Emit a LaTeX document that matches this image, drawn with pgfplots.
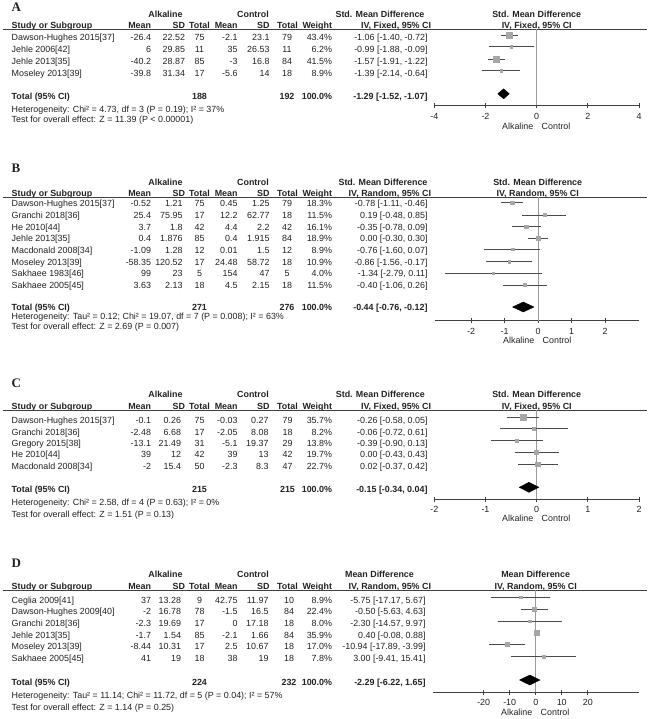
\documentclass[border=0pt]{standalone}
\usepackage{pgfplots}
\pgfplotsset{compat=1.18}
\usepackage{fontspec}
\setmainfont{Liberation Sans}
\newfontfamily\seriffont{Liberation Serif}
\definecolor{sq}{HTML}{A6A6A6}
\definecolor{ci}{HTML}{4A4A4A}
\definecolor{zl}{HTML}{9A9A9A}
\definecolor{tx}{HTML}{222222}
\newcommand{\fs}{\fontsize{8.9}{10.5}\selectfont}
\newcommand{\lbl}{\fontsize{13}{13}\selectfont\seriffont\bfseries}
\newcommand{\RT}[3]{\node[anchor=base east] at (#1,{#2+3.2}) {#3};}
\newcommand{\LT}[3]{\node[anchor=base west] at (#1,{#2+3.2}) {#3};}
\newcommand{\CT}[3]{\node[anchor=base] at (#1,{#2+3.2}) {#3};}
% columns
\def\cS{11.7}\def\cM{151}\def\cSD{185}\def\cN{199.5}\def\cMM{237.5}\def\cSS{269.5}\def\cNN{287}\def\cW{332}\def\cE{427.5}
\newcommand{\Row}[9]{\LT{\cS}{#1}{#2}\RT{\cM}{#1}{#3}\RT{\cSD}{#1}{#4}\CT{\cN}{#1}{#5}\RT{\cMM}{#1}{#6}\RT{\cSS}{#1}{#7}\CT{\cNN}{#1}{#8}\RT{\cW}{#1}{#9}}
\newcommand{\Heads}[7]{% y1 y2 yline x0 head1 head2 estheadcenter
  \CT{165.5}{#1}{\bfseries Alkaline}\CT{253}{#1}{\bfseries Control}
  \CT{#7}{#1}{\bfseries #5}\CT{#4}{#1}{\bfseries #5}
  \LT{\cS}{#2}{\bfseries Study or Subgroup}\RT{151}{#2}{\bfseries Mean}\RT{185}{#2}{\bfseries SD}\CT{199.5}{#2}{\bfseries Total}
  \RT{237.5}{#2}{\bfseries Mean}\RT{269.5}{#2}{\bfseries SD}\CT{287.5}{#2}{\bfseries Total}\RT{332}{#2}{\bfseries Weight}
  \RT{431}{#2}{\bfseries #6}\CT{#4}{#2}{\bfseries #6}
  \draw[black!75, line width=0.8pt] (3,#3) -- (647,#3);}
\newcommand{\AlkCon}[2]{\node[anchor=base east] at ({#1-3.4},{#2+3.2}) {Alkaline};\node[anchor=base west] at ({#1+5},{#2+3.2}) {Control};}
\pgfplotsset{
  forest/.style={scale only axis, axis x line*=bottom, hide y axis, tick align=center,
    major tick length=5pt, x axis line style={black!75, line width=0.8pt},
    xtick style={black!75, line width=0.8pt},
    xticklabel style={anchor=base, yshift=-11.3pt, font=\fs, text=tx},
    y filter/.expression={-y}, clip=false},
  pts/.style={only marks, mark=square*, scatter, scatter/use mapped color={draw=sq, fill=sq},
    visualization depends on={0.45*sqrt(\thisrow{w}) \as \msize},
    scatter/@pre marker code/.append style={/tikz/mark size=\msize},
    error bars/.cd, x dir=both, x explicit, error mark=none,
    error bar style={ci, line width=0.8pt}},
  zero/.style={zl, line width=0.9pt},
  dia/.style={fill=black, draw=black, line width=0.4pt}
}
\begin{document}
\begin{tikzpicture}[x=1pt, y=-1pt, every node/.style={inner sep=0pt, outer sep=0pt}, font=\fs, text=tx]
\path[use as bounding box] (0,0) rectangle (650,719);
% ================= A =================
\node[anchor=west] at (11.7,7.7) {\lbl A};
\Heads{14}{25.5}{29}{536.7}{Std. Mean Difference}{IV, Fixed, 95\% CI}{380}
\Row{37.5}{Dawson-Hughes 2015[37]}{-26.4}{22.52}{75}{-2.1}{23.1}{79}{43.4\%}\RT{\cE}{37.5}{-1.06 [-1.40, -0.72]}
\Row{49.8}{Jehle 2006[42]}{6}{29.85}{11}{35}{26.53}{11}{6.2\%}\RT{\cE}{49.8}{-0.99 [-1.88, -0.09]}
\Row{61.8}{Jehle 2013[35]}{-40.2}{28.87}{85}{-3}{16.8}{84}{41.5\%}\RT{\cE}{61.8}{-1.57 [-1.91, -1.22]}
\Row{73.4}{Moseley 2013[39]}{-39.8}{31.34}{17}{-5.6}{14}{18}{8.9\%}\RT{\cE}{73.4}{-1.39 [-2.14, -0.64]}
\Row{96.3}{\bfseries Total (95\% CI)}{}{}{\bfseries 188}{}{}{\bfseries 192}{\bfseries 100.0\%}\RT{\cE}{96.3}{\bfseries -1.29 [-1.52, -1.07]}
\LT{\cS}{109.8}{Heterogeneity: Chi² = 4.73, df = 3 (P = 0.19); I² = 37\%}
\LT{\cS}{119.5}{Test for overall effect: Z = 11.39 (P < 0.00001)}
\AlkCon{536.7}{126}
\begin{axis}[forest, at={(434.3pt,-105.3pt)}, anchor=south west, width=204.7pt, height=76.3pt,
  xmin=-4, xmax=4, ymin=-105.3, ymax=-29, xtick={-4,-2,0,2,4}, xticklabels={-4,-2,0,2,4}]
\addplot[zero] coordinates {(0,29) (0,105.3)};
\addplot[pts] table[x=e, y=y, x error minus expr=\thisrow{e}-\thisrow{l}, x error plus expr=\thisrow{h}-\thisrow{e}] {
y e l h w
35.3 -1.06 -1.40 -0.72 43.4
46.8 -0.99 -1.88 -0.09 6.2
59.2 -1.57 -1.91 -1.22 41.5
70.7 -1.39 -2.14 -0.64 8.9
};
\addplot[dia] coordinates {(-1.52,93.8) (-1.29,88.8) (-1.07,93.8) (-1.29,98.8)} -- cycle;
\end{axis}
% ================= B =================
\node[anchor=west] at (11.7,168) {\lbl B};
\Heads{182.3}{193.3}{197.5}{537.7}{Std. Mean Difference}{IV, Random, 95\% CI}{383}
\def\cSD{182.5}
\Row{203.8}{Dawson-Hughes 2015[37]}{-0.52}{1.21}{75}{0.45}{1.25}{79}{18.3\%}\RT{\cE}{203.8}{-0.78 [-1.11, -0.46]}
\Row{215.4}{Granchi 2018[36]}{25.4}{75.95}{17}{12.2}{62.77}{18}{11.5\%}\RT{\cE}{215.4}{0.19 [-0.48, 0.85]}
\Row{227}{He 2010[44]}{3.7}{1.8}{42}{4.4}{2.2}{42}{16.1\%}\RT{\cE}{227}{-0.35 [-0.78, 0.09]}
\Row{238.6}{Jehle 2013[35]}{0.4}{1.876}{85}{0.4}{1.915}{84}{18.9\%}\RT{\cE}{238.6}{0.00 [-0.30, 0.30]}
\Row{250.2}{Macdonald 2008[34]}{-1.09}{1.28}{12}{0.01}{1.5}{12}{8.9\%}\RT{\cE}{250.2}{-0.76 [-1.60, 0.07]}
\Row{261.8}{Moseley 2013[39]}{-58.35}{120.52}{17}{24.48}{58.72}{18}{10.9\%}\RT{\cE}{261.8}{-0.86 [-1.56, -0.17]}
\Row{273.4}{Sakhaee 1983[46]}{99}{23}{5}{154}{47}{5}{4.0\%}\RT{\cE}{273.4}{-1.34 [-2.79, 0.11]}
\Row{285}{Sakhaee 2005[45]}{3.63}{2.13}{18}{4.5}{2.15}{18}{11.5\%}\RT{\cE}{285}{-0.40 [-1.06, 0.26]}
\Row{307.5}{\bfseries Total (95\% CI)}{}{}{\bfseries 271}{}{}{\bfseries 276}{\bfseries 100.0\%}\RT{\cE}{307.5}{\bfseries -0.44 [-0.76, -0.12]}
\LT{\cS}{316.7}{Heterogeneity: Tau² = 0.12; Chi² = 19.07, df = 7 (P = 0.008); I² = 63\%}
\LT{\cS}{325.8}{Test for overall effect: Z = 2.69 (P = 0.007)}
\AlkCon{537.7}{340}
\begin{axis}[forest, at={(435pt,-320.7pt)}, anchor=south west, width=204pt, height=123.2pt,
  xmin=-3.075, xmax=3.015, ymin=-320.7, ymax=-197.5, xtick={-2,-1,0,1,2}, xticklabels={-2,-1,0,1,2}]
\addplot[zero] coordinates {(0,197.5) (0,320.7)};
\addplot[pts] table[x=e, y=y, x error minus expr=\thisrow{e}-\thisrow{l}, x error plus expr=\thisrow{h}-\thisrow{e}] {
y e l h w
202.7 -0.78 -1.11 -0.46 18.3
215.0 0.19 -0.48 0.85 11.5
226.7 -0.35 -0.78 0.09 16.1
238.3 0.00 -0.30 0.30 18.9
249.3 -0.76 -1.60 0.07 8.9
261.3 -0.86 -1.56 -0.17 10.9
273.0 -1.34 -2.79 0.11 4.0
285.0 -0.40 -1.06 0.26 11.5
};
\addplot[dia] coordinates {(-0.76,307) (-0.44,302) (-0.12,307) (-0.44,312)} -- cycle;
\end{axis}
% ================= C =================
\node[anchor=west] at (11.7,383.5) {\lbl C};
\Heads{394.3}{406}{410.3}{536.7}{Std. Mean Difference}{IV, Fixed, 95\% CI}{380.3}
\def\cSD{181}\def\cSS{268.5}\def\cNN{287.5}
\Row{420.5}{Dawson-Hughes 2015[37]}{-0.1}{0.26}{75}{-0.03}{0.27}{79}{35.7\%}\RT{\cE}{420.5}{-0.26 [-0.58, 0.05]}
\Row{431.8}{Granchi 2018[36]}{-2.48}{6.68}{17}{-2.05}{8.08}{18}{8.2\%}\RT{\cE}{431.8}{-0.06 [-0.72, 0.61]}
\Row{443.1}{Gregory 2015[38]}{-13.1}{21.49}{31}{-5.1}{19.37}{29}{13.8\%}\RT{\cE}{443.1}{-0.39 [-0.90, 0.13]}
\Row{454.5}{He 2010[44]}{39}{12}{42}{39}{13}{42}{19.7\%}\RT{\cE}{454.5}{0.00 [-0.43, 0.43]}
\Row{466}{Macdonald 2008[34]}{-2}{15.4}{50}{-2.3}{8.3}{47}{22.7\%}\RT{\cE}{466}{0.02 [-0.37, 0.42]}
\Row{489.6}{\bfseries Total (95\% CI)}{}{}{\bfseries 215}{}{}{\bfseries 215}{\bfseries 100.0\%}\RT{\cE}{489.6}{\bfseries -0.15 [-0.34, 0.04]}
\LT{\cS}{502.7}{Heterogeneity: Chi² = 2.58, df = 4 (P = 0.63); I² = 0\%}
\LT{\cS}{514}{Test for overall effect: Z = 1.51 (P = 0.13)}
\AlkCon{536.7}{518.5}
\begin{axis}[forest, at={(434.3pt,-499pt)}, anchor=south west, width=204.7pt, height=88.7pt,
  xmin=-2, xmax=2, ymin=-499, ymax=-410.3, xtick={-2,-1,0,1,2}, xticklabels={-2,-1,0,1,2}]
\addplot[zero] coordinates {(0,410.3) (0,499)};
\addplot[pts] table[x=e, y=y, x error minus expr=\thisrow{e}-\thisrow{l}, x error plus expr=\thisrow{h}-\thisrow{e}] {
y e l h w
417.3 -0.26 -0.58 0.05 35.7
428.7 -0.06 -0.72 0.61 8.2
440.7 -0.39 -0.90 0.13 13.8
452.3 0.00 -0.43 0.43 19.7
464.0 0.02 -0.37 0.42 22.7
};
\addplot[dia] coordinates {(-0.34,487.3) (-0.15,482.3) (0.04,487.3) (-0.15,492.3)} -- cycle;
\end{axis}
% ================= D =================
\node[anchor=west] at (11.7,563) {\lbl D};
\Heads{574.3}{586.7}{590.3}{535.7}{Mean Difference}{IV, Random, 95\% CI}{379.5}
\def\cNN{289}\def\cE{425.5}
\Row{600}{Ceglia 2009[41]}{37}{13.28}{9}{42.75}{11.97}{10}{8.9\%}\RT{\cE}{600}{-5.75 [-17.17, 5.67]}
\Row{611.5}{Dawson-Hughes 2009[40]}{-2}{16.78}{78}{-1.5}{16.5}{84}{22.4\%}\RT{\cE}{611.5}{-0.50 [-5.63, 4.63]}
\Row{623}{Granchi 2018[36]}{-2.3}{19.69}{17}{0}{17.18}{18}{8.0\%}\RT{\cE}{623}{-2.30 [-14.57, 9.97]}
\Row{634.8}{Jehle 2013[35]}{-1.7}{1.54}{85}{-2.1}{1.66}{84}{35.9\%}\RT{\cE}{634.8}{0.40 [-0.08, 0.88]}
\Row{646.6}{Moseley 2013[39]}{-8.44}{10.31}{17}{2.5}{10.67}{18}{17.0\%}\RT{\cE}{646.6}{-10.94 [-17.89, -3.99]}
\Row{658.4}{Sakhaee 2005[45]}{41}{19}{18}{38}{19}{18}{7.8\%}\RT{\cE}{658.4}{3.00 [-9.41, 15.41]}
\Row{682.6}{\bfseries Total (95\% CI)}{}{}{\bfseries 224}{}{}{\bfseries 232}{\bfseries 100.0\%}\RT{\cE}{682.6}{\bfseries -2.29 [-6.22, 1.65]}
\LT{\cS}{695}{Heterogeneity: Tau² = 11.14; Chi² = 11.72, df = 5 (P = 0.04); I² = 57\%}
\LT{\cS}{707.3}{Test for overall effect: Z = 1.14 (P = 0.25)}
\AlkCon{535.7}{712.5}
\begin{axis}[forest, at={(432.7pt,-692pt)}, anchor=south west, width=206.3pt, height=101.7pt,
  xmin=-39.6, xmax=39.7, ymin=-692, ymax=-590.3, xtick={-20,-10,0,10,20}, xticklabels={-20,-10,0,10,20}]
\addplot[zero] coordinates {(0,590.3) (0,692)};
\addplot[pts] table[x=e, y=y, x error minus expr=\thisrow{e}-\thisrow{l}, x error plus expr=\thisrow{h}-\thisrow{e}] {
y e l h w
597.3 -5.75 -17.17 5.67 8.9
609.3 -0.50 -5.63 4.63 22.4
621.0 -2.30 -14.57 9.97 8.0
632.7 0.40 -0.08 0.88 35.9
644.3 -10.94 -17.89 -3.99 17.0
656.7 3.00 -9.41 15.41 7.8
};
\addplot[dia] coordinates {(-6.22,680) (-2.29,675) (1.65,680) (-2.29,685)} -- cycle;
\end{axis}
\end{tikzpicture}
\end{document}
